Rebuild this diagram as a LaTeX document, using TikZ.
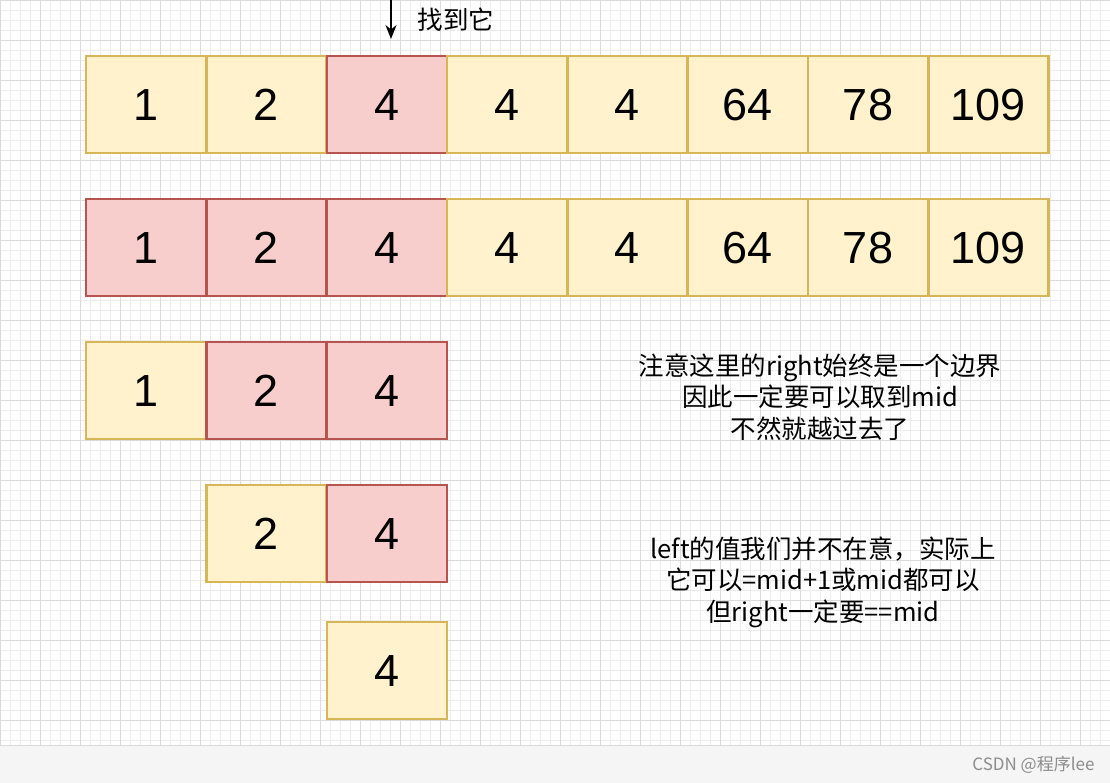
\documentclass[tikz,border=0pt]{standalone}
\usepackage{fontspec}
\setmainfont{Liberation Sans}
\newfontfamily\cjk{Noto Sans CJK SC}
\usetikzlibrary{arrows.meta}
\begin{document}
\begin{tikzpicture}[x=1pt,y=-1pt,
  yc/.style={draw=yellowline,fill=yellowfill,line width=2.4pt,minimum width=120pt,minimum height=97pt,inner sep=0pt,font=\fontsize{45}{48}\selectfont,anchor=north west},
  rc/.style={yc,draw=redline,fill=redfill},
  note/.style={font=\cjk\fontsize{25.5}{31.5}\selectfont,align=center}]
\definecolor{yellowfill}{HTML}{FFF2CC}\definecolor{yellowline}{HTML}{D6B656}
\definecolor{redfill}{HTML}{F8CECC}\definecolor{redline}{HTML}{B85450}
\useasboundingbox (0,0) rectangle (1110,783);
\fill[white] (0,0) rectangle (1110,783);
\foreach \k in {0,10,...,1110} \draw[black!7,line width=0.5pt] (\k,0) -- (\k,745);
\foreach \k in {0,10,...,740} \draw[black!7,line width=0.5pt] (0,\k) -- (1110,\k);
\foreach \k in {0,40,...,1110} \draw[black!14,line width=0.6pt] (\k,0) -- (\k,745);
\foreach \k in {0,40,...,740} \draw[black!14,line width=0.6pt] (0,\k) -- (1110,\k);
\fill[black!4] (0,745) rectangle (1110,783);
\draw[black!15] (0,745) -- (1110,745);
\node[font=\cjk\fontsize{17}{18}\selectfont,text=black!45,anchor=east] (csdn) at (1098,765) {CSDN @程序lee};
\foreach \t [count=\i from 0] in {1,2,4,4,4,64,78,109}{
  \ifnum\i=2 \node[rc] (a\i) at (85+120.3*\i,55) {\t};
  \else \node[yc] (a\i) at (85+120.3*\i,55) {\t};\fi}
\foreach \t [count=\i from 0] in {1,2,4,4,4,64,78,109}{
  \ifnum\i<3 \node[rc] (b\i) at (85+120.3*\i,198) {\t};
  \else \node[yc] (b\i) at (85+120.3*\i,198) {\t};\fi}
\node[yc] (c0) at (85,341) {1};
\node[rc] (c1) at (205.3,341) {2};
\node[rc] (c2) at (325.6,341) {4};
\node[yc] (d1) at (205.3,484) {2};
\node[rc] (d2) at (325.6,484) {4};
\node[yc] (e2) at (325.6,621) {4};
\coordinate (top) at (391,0);
\coordinate (tip) at (391,39);
\draw[line width=2pt,-{Stealth[length=14pt,width=11pt]}] (top) -- (tip);
\node[note,anchor=west] (found) at (414,20) {找到它};
\node[note] (n1) at (820,397) {注意这里的right始终是一个边界\\因此一定要可以取到mid\\不然就越过去了};
\node[note] (n2) at (823,582) {left的值我们并不在意，实际上\\它可以=mid+1或mid都可以\\但right一定要==mid};
\end{tikzpicture}
\end{document}
